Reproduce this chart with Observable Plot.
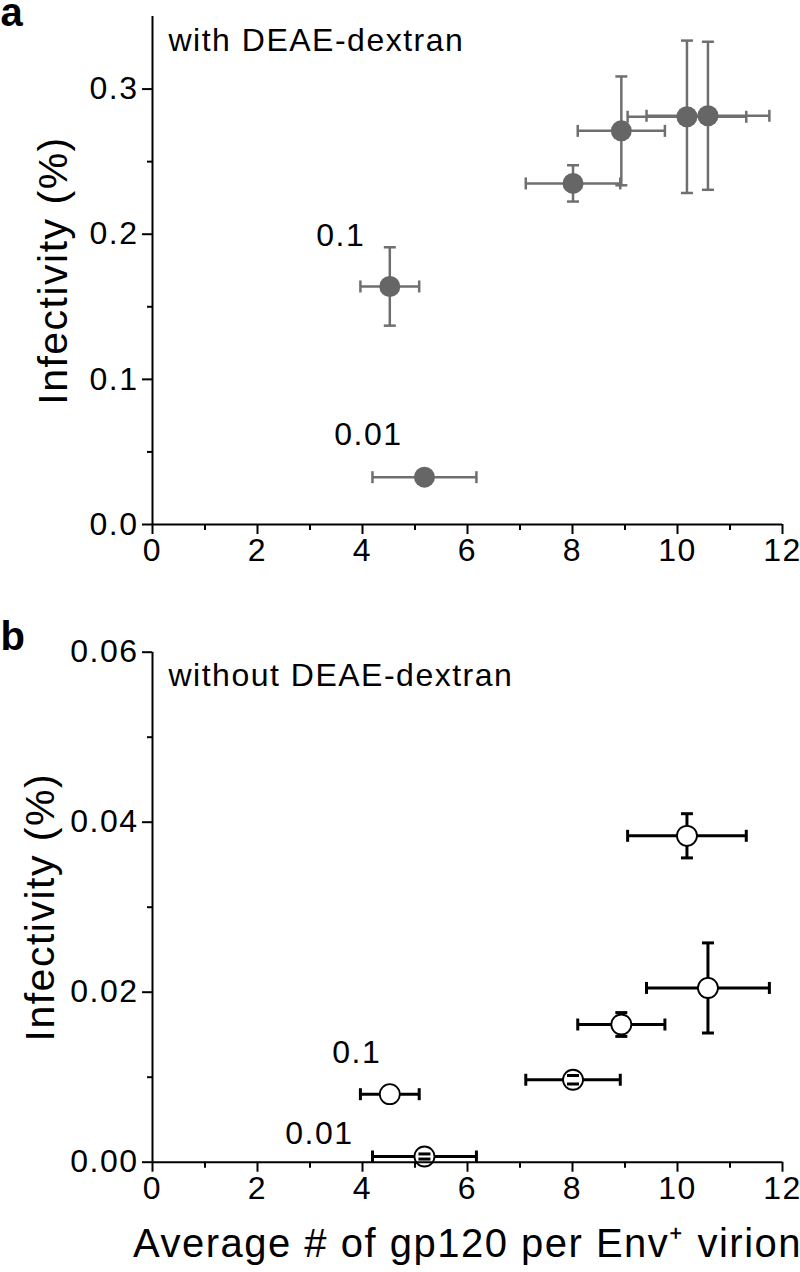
<!DOCTYPE html>
<html><head><meta charset="utf-8">
<script src="https://cdn.jsdelivr.net/npm/d3@7"></script>
<script src="https://cdn.jsdelivr.net/npm/@observablehq/plot@0.6"></script>
<style>
body{margin:0;background:#fff;}
#chart{width:800px;height:1272px;position:relative;font-family:"Liberation Sans",Arial,sans-serif;}
#chart svg{display:block;overflow:visible;}
#chart svg text{letter-spacing:1.5px;}
</style></head><body><div id="chart"></div>
<script>
// ---- data ----
const xTicks = [0, 2, 4, 6, 8, 10, 12];
const xMinor = [1, 3, 5, 7, 9, 11];
const aYTicks = [0, 0.1, 0.2, 0.3];
const aYMinor = [0.05, 0.15, 0.25];
const bYTicks = [0, 0.02, 0.04, 0.06];
const bYMinor = [0.01, 0.03, 0.05];

const concentrations = ["0.1", "0.01", "", "", "", ""];
const gp120 = [4.52, 5.18, 8.01, 8.93, 10.18, 10.58];
const gp120Err = [0.56, 0.99, 0.90, 0.83, 1.13, 1.17];
const infectA = [0.164, 0.0326, 0.235, 0.2712, 0.2809, 0.2816];
const infectAErr = [0.027, 0, 0.0125, 0.0375, 0.0525, 0.051];
const infectB = [0.0080, 0.00067, 0.0097, 0.0162, 0.0384, 0.0205];
const infectBErr = [0, 0.0003, 0.0005, 0.0014, 0.0026, 0.0053];

const titleA = "with DEAE-dextran";
const titleB = "without DEAE-dextran";
const yLabel = "Infectivity (%)";
const xLabel = "Average # of gp120 per Env\u207A virion";

// ---- cap symbols ----
const capH = {draw(ctx, size){ const r = Math.sqrt(size / Math.PI); ctx.moveTo(-r, 0); ctx.lineTo(r, 0); }};
const capV = {draw(ctx, size){ const r = Math.sqrt(size / Math.PI); ctx.moveTo(0, -r); ctx.lineTo(0, r); }};

function panel(o) {
  const rows = gp120.map((x, i) => ({x, xe: gp120Err[i], y: o.yVals[i], ye: o.yErrs[i], label: concentrations[i]}));
  const rowsYe = rows.filter(d => d.ye > 0);
  const barStyle = {stroke: o.barColor, strokeWidth: o.barWidth};
  const capStyle = {stroke: o.barColor, strokeWidth: o.barWidth, fill: "none", r: 6};
  const caps = [
    Plot.dot(rows, {x: d => d.x - d.xe, y: "y", symbol: capV, ...capStyle}),
    Plot.dot(rows, {x: d => d.x + d.xe, y: "y", symbol: capV, ...capStyle}),
    Plot.dot(rowsYe, {x: "x", y: d => d.y + d.ye, symbol: capH, ...capStyle}),
    Plot.dot(rowsYe, {x: "x", y: d => d.y - d.ye, symbol: capH, ...capStyle})
  ];
  const labelled = rows.filter(d => d.label);
  const marks = [
    Plot.ruleY(rows, {x1: d => d.x - d.xe, x2: d => d.x + d.xe, y: "y", ...barStyle}),
    Plot.ruleX(rowsYe, {x: "x", y1: d => d.y - d.ye, y2: d => d.y + d.ye, ...barStyle}),
    ...(o.capsOnTop ? [] : caps),
    Plot.dot(rows, {x: "x", y: "y", r: o.r, fill: o.dotFill, stroke: o.dotStroke, strokeWidth: o.dotStrokeWidth}),
    ...(o.capsOnTop ? caps : []),
    ...labelled.map((d, i) => Plot.text([d], {x: "x", y: "y", text: "label", fontSize: 32, dx: o.labelOffsets[i][0], dy: o.labelOffsets[i][1], fill: "#000"})),
    // axes
    Plot.ruleX([0], {stroke: "#000", strokeWidth: 2}),
    Plot.ruleY([0], {stroke: "#000", strokeWidth: 2}),
    Plot.axisX(xTicks, {tickSize: 10, tickPadding: 4, fontSize: 32, strokeWidth: 2, label: null, tickFormat: d3.format("d")}),
    Plot.axisX(xMinor, {tickSize: 6, text: null, strokeWidth: 2, label: null}),
    Plot.axisY(o.yTicks, {tickSize: 10, tickPadding: 4, fontSize: 32, strokeWidth: 2, label: null, tickFormat: d3.format(o.yFmt)}),
    Plot.axisY(o.yMinor, {tickSize: 5, text: null, strokeWidth: 2, label: null}),
    // titles and labels
    Plot.text([o.title], {frameAnchor: "top-left", dx: 16, dy: o.titleDy, lineAnchor: "top", textAnchor: "start", fontSize: 32, fill: "#000"}),
    Plot.text([o.letter], {frameAnchor: "top-left", dx: -152, dy: o.letterDy, lineAnchor: "bottom", textAnchor: "start", fontSize: 40, fontWeight: "bold", fill: "#000"}),
    Plot.text([yLabel], {frameAnchor: "left", rotate: -90, dx: o.yLabelDx, lineAnchor: "middle", textAnchor: "middle", fontSize: 41, fill: "#000"}),
    ...(o.showXLabel ? [Plot.text([xLabel], {frameAnchor: "bottom", dy: 95, lineAnchor: "bottom", textAnchor: "middle", fontSize: 40, fill: "#000"})] : [])
  ];
  return Plot.plot({
    width: 800, height: o.height,
    marginLeft: 152, marginRight: 18, marginTop: o.marginTop, marginBottom: o.marginBottom,
    x: {domain: [0, 12], axis: null},
    y: {domain: o.yDomain, axis: null},
    style: {fontFamily: "'Liberation Sans', Arial, sans-serif", color: "#000", background: "#fff"},
    marks
  });
}

const chart = document.getElementById("chart");
chart.append(panel({
  height: 590, marginTop: 16, marginBottom: 66, yDomain: [0, 0.35],
  yTicks: aYTicks, yMinor: aYMinor, yFmt: ".1f",
  yVals: infectA, yErrs: infectAErr,
  barColor: "#6f6f6f", barWidth: 2.5, r: 10.5, dotFill: "#666", dotStroke: "none", dotStrokeWidth: 0,
  capsOnTop: false,
  labelOffsets: [[-49, -51], [-56, -42]],
  title: titleA, titleDy: 12, letter: "a", letterDy: 9, yLabelDx: -99, showXLabel: false
}));
chart.append(panel({
  height: 682, marginTop: 61.7, marginBottom: 110.3, yDomain: [0, 0.06],
  yTicks: bYTicks, yMinor: bYMinor, yFmt: ".2f",
  yVals: infectB, yErrs: infectBErr,
  barColor: "#000", barWidth: 3, r: 10, dotFill: "#fff", dotStroke: "#000", dotStrokeWidth: 1.8,
  capsOnTop: true,
  labelOffsets: [[-33, -41], [-105, -23]],
  title: titleB, titleDy: 11, letter: "b", letterDy: -2, yLabelDx: -112, showXLabel: true
}));
</script></body></html>
